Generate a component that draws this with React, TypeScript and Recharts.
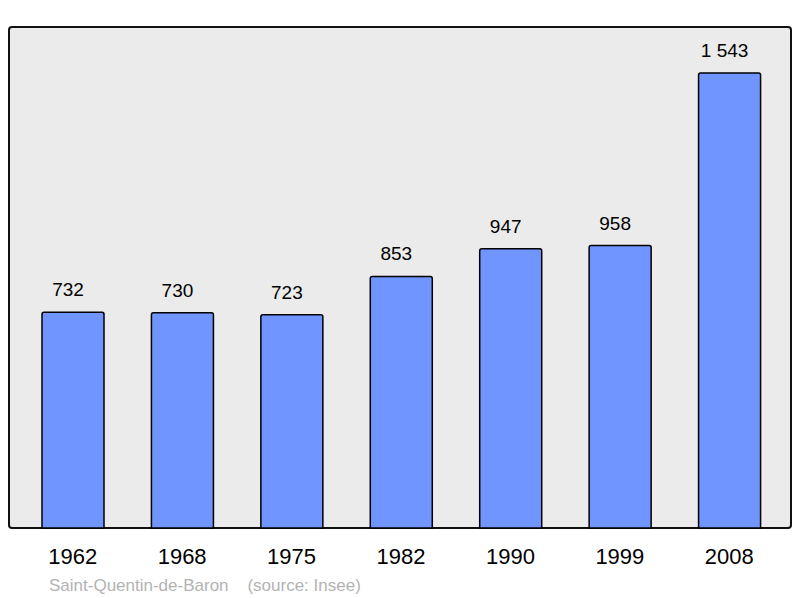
import { BarChart, Bar, XAxis, YAxis, LabelList } from "recharts";

const years = ["1962", "1968", "1975", "1982", "1990", "1999", "2008"];
const population = [732, 730, 723, 853, 947, 958, 1543];
const yMax = 1699;

const data = years.map((year, i) => ({ year, population: population[i] }));

const formatPop = (v: any) => String(v).replace(/\B(?=(\d{3})+(?!\d))/g, " ");

// value label sits a little left of the bar centre, like the original
const renderValue = (props: any) => {
    const { x, y, width, value } = props;
    return (
        <text x={x + width / 2 - 5} y={y - 16} textAnchor="middle" fontSize={19} fill="#000">
            {formatPop(value)}
        </text>
    );
};

export default function App() {
    return (
        <div style={{ position: "absolute", left: 0, top: 0, width: 800, height: 598, background: "#fff", fontFamily: "'Liberation Sans', Arial, sans-serif" }}>
            <div
                style={{
                    position: "absolute",
                    left: 8,
                    top: 26,
                    width: 784,
                    height: 503,
                    boxSizing: "border-box",
                    border: "2px solid #111",
                    borderRadius: 4,
                    background: "#ebebeb",
                }}
            />
            <div style={{ position: "absolute", left: 0, top: 0 }}>
                <BarChart width={800} height={598} data={data} margin={{ top: 27, right: 16, left: 18, bottom: 40 }}>
                    <XAxis
                        dataKey="year"
                        axisLine={false}
                        tickLine={false}
                        height={30}
                        tick={{ fontSize: 22, fill: "#000" }}
                        dy={12}
                    />
                    <YAxis hide domain={[0, yMax]} width={0} />
                    <Bar
                        dataKey="population"
                        fill="#7095ff"
                        stroke="#000"
                        strokeWidth={1.5}
                        barSize={62}
                        radius={[2, 2, 0, 0]}
                        isAnimationActive={false}
                    >
                        <LabelList dataKey="population" content={renderValue} />
                    </Bar>
                </BarChart>
            </div>
            <div style={{ position: "absolute", left: 49, top: 576, fontSize: 17, color: "#b3b3b3", whiteSpace: "pre" }}>
                {"Saint-Quentin-de-Baron    (source: Insee)"}
            </div>
        </div>
    );
}
